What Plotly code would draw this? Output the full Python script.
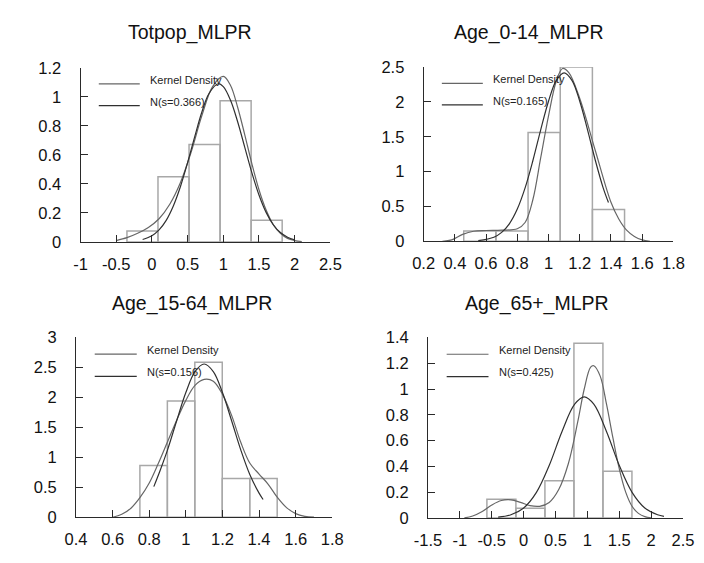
import plotly.graph_objects as go

W, H = 704, 563

# ---------------- data ----------------
titles = ["Totpop_MLPR", "Age_0-14_MLPR", "Age_15-64_MLPR", "Age_65+_MLPR"]
kernel_label = "Kernel Density"
normal_labels = ["N(s=0.366)", "N(s=0.165)", "N(s=0.156)", "N(s=0.425)"]

# Panel 1: Totpop_MLPR
p1_bin_edges = [-0.35, 0.085, 0.52, 0.955, 1.39, 1.825]
p1_density = [0.076, 0.449, 0.671, 0.973, 0.149]
p1_kernel_x = [-0.5, -0.35, -0.2, -0.05, 0.1, 0.25, 0.4, 0.55, 0.7, 0.85, 1.0, 1.1, 1.2, 1.3, 1.4, 1.5, 1.6, 1.7, 1.8, 1.9, 2.0, 2.1]
p1_kernel_y = [0.01, 0.03, 0.06, 0.1, 0.16, 0.26, 0.41, 0.62, 0.87, 1.07, 1.14, 1.08, 0.93, 0.74, 0.54, 0.36, 0.22, 0.12, 0.06, 0.025, 0.01, 0.003]
p1_normal_x = [-0.13, 0.0, 0.1, 0.2, 0.3, 0.4, 0.5, 0.6, 0.7, 0.8, 0.93, 1.0, 1.1, 1.2, 1.3, 1.4, 1.5, 1.6, 1.7, 1.8, 1.9, 2.0]
p1_normal_y = [0.017, 0.043, 0.083, 0.149, 0.248, 0.382, 0.547, 0.726, 0.895, 1.023, 1.09, 1.07, 0.978, 0.83, 0.654, 0.478, 0.324, 0.204, 0.119, 0.065, 0.033, 0.015]
p1_xticks = [-1, -0.5, 0, 0.5, 1, 1.5, 2, 2.5]
p1_xlabels = ["-1", "-0.5", "0", "0.5", "1", "1.5", "2", "2.5"]
p1_yticks = [0, 0.2, 0.4, 0.6, 0.8, 1, 1.2]
p1_ylabels = ["0", "0.2", "0.4", "0.6", "0.8", "1", "1.2"]

# Panel 2: Age_0-14_MLPR
p2_bin_edges = [0.457, 0.663, 0.869, 1.075, 1.281, 1.487]
p2_density = [0.148, 0.148, 1.56, 2.5, 0.458]
p2_kernel_x = [0.32, 0.38, 0.45, 0.52, 0.6, 0.7, 0.8, 0.85, 0.9, 0.95, 1.0, 1.05, 1.09, 1.13, 1.2, 1.3, 1.4, 1.45, 1.5, 1.55, 1.6, 1.65]
p2_kernel_y = [0.0, 0.02, 0.1, 0.145, 0.155, 0.16, 0.18, 0.27, 0.6, 1.2, 1.8, 2.3, 2.48, 2.42, 2.05, 1.3, 0.56, 0.32, 0.16, 0.07, 0.02, 0.0]
p2_normal_x = [0.55, 0.65, 0.7, 0.75, 0.8, 0.85, 0.9, 0.95, 1.0, 1.05, 1.1, 1.15, 1.2, 1.25, 1.3, 1.35, 1.384]
p2_normal_y = [0.009, 0.059, 0.128, 0.255, 0.463, 0.767, 1.16, 1.6, 2.01, 2.31, 2.418, 2.31, 2.01, 1.6, 1.16, 0.767, 0.556]
p2_xticks = [0.2, 0.4, 0.6, 0.8, 1, 1.2, 1.4, 1.6, 1.8]
p2_xlabels = ["0.2", "0.4", "0.6", "0.8", "1", "1.2", "1.4", "1.6", "1.8"]
p2_yticks = [0, 0.5, 1, 1.5, 2, 2.5]
p2_ylabels = ["0", "0.5", "1", "1.5", "2", "2.5"]

# Panel 3: Age_15-64_MLPR
p3_bin_edges = [0.749, 0.899, 1.049, 1.199, 1.349, 1.499]
p3_density = [0.862, 1.94, 2.585, 0.646, 0.646]
p3_kernel_x = [0.6, 0.65, 0.7, 0.75, 0.8, 0.85, 0.9, 0.95, 1.0, 1.05, 1.1, 1.15, 1.2, 1.25, 1.3, 1.35, 1.4, 1.45, 1.5, 1.55, 1.6, 1.65, 1.7]
p3_kernel_y = [0.0, 0.05, 0.15, 0.33, 0.57, 0.9, 1.26, 1.62, 1.95, 2.2, 2.3, 2.27, 2.05, 1.7, 1.25, 0.9, 0.72, 0.55, 0.33, 0.16, 0.06, 0.015, 0.0]
p3_normal_x = [0.825, 0.86, 0.9, 0.95, 1.0, 1.05, 1.1, 1.15, 1.2, 1.25, 1.3, 1.35, 1.4, 1.422]
p3_normal_y = [0.51, 0.784, 1.124, 1.61, 2.08, 2.43, 2.557, 2.43, 2.08, 1.61, 1.124, 0.708, 0.402, 0.296]
p3_xticks = [0.4, 0.6, 0.8, 1, 1.2, 1.4, 1.6, 1.8]
p3_xlabels = ["0.4", "0.6", "0.8", "1", "1.2", "1.4", "1.6", "1.8"]
p3_yticks = [0, 0.5, 1, 1.5, 2, 2.5, 3]
p3_ylabels = ["0", "0.5", "1", "1.5", "2", "2.5", "3"]

# Panel 4: Age_65+_MLPR
p4_bin_edges = [-0.577, -0.122, 0.333, 0.788, 1.243, 1.698]
p4_density = [0.145, 0.075, 0.288, 1.355, 0.361]
p4_kernel_x = [-0.93, -0.8, -0.65, -0.5, -0.35, -0.2, -0.05, 0.1, 0.25, 0.4, 0.55, 0.7, 0.85, 0.95, 1.05, 1.1, 1.2, 1.3, 1.4, 1.5, 1.6, 1.7, 1.8, 1.9, 2.0]
p4_kernel_y = [0.0, 0.015, 0.05, 0.1, 0.135, 0.14, 0.12, 0.095, 0.09, 0.12, 0.22, 0.42, 0.75, 1.0, 1.17, 1.18, 1.1, 0.88, 0.62, 0.38, 0.2, 0.09, 0.035, 0.01, 0.0]
p4_normal_x = [-0.4, -0.2, 0.0, 0.2, 0.4, 0.6, 0.8, 0.95, 1.1, 1.3, 1.5, 1.7, 1.9, 2.1, 2.2]
p4_normal_y = [0.006, 0.024, 0.077, 0.198, 0.406, 0.669, 0.882, 0.939, 0.882, 0.669, 0.406, 0.198, 0.077, 0.024, 0.012]
p4_xticks = [-1.5, -1, -0.5, 0, 0.5, 1, 1.5, 2, 2.5]
p4_xlabels = ["-1.5", "-1", "-0.5", "0", "0.5", "1", "1.5", "2", "2.5"]
p4_yticks = [0, 0.2, 0.4, 0.6, 0.8, 1, 1.2, 1.4]
p4_ylabels = ["0", "0.2", "0.4", "0.6", "0.8", "1", "1.2", "1.4"]

panels = [
    dict(edges=p1_bin_edges, dens=p1_density, kx=p1_kernel_x, ky=p1_kernel_y,
         nx=p1_normal_x, ny=p1_normal_y, xt=p1_xticks, xl=p1_xlabels, yt=p1_yticks, yl=p1_ylabels),
    dict(edges=p2_bin_edges, dens=p2_density, kx=p2_kernel_x, ky=p2_kernel_y,
         nx=p2_normal_x, ny=p2_normal_y, xt=p2_xticks, xl=p2_xlabels, yt=p2_yticks, yl=p2_ylabels),
    dict(edges=p3_bin_edges, dens=p3_density, kx=p3_kernel_x, ky=p3_kernel_y,
         nx=p3_normal_x, ny=p3_normal_y, xt=p3_xticks, xl=p3_xlabels, yt=p3_yticks, yl=p3_ylabels),
    dict(edges=p4_bin_edges, dens=p4_density, kx=p4_kernel_x, ky=p4_kernel_y,
         nx=p4_normal_x, ny=p4_normal_y, xt=p4_xticks, xl=p4_xlabels, yt=p4_yticks, yl=p4_ylabels),
]

# ---------------- layout geometry (pixels) ----------------
boxes = [(69, 328, 60.7, 240.7), (424.7, 683.7, 60, 240),
         (64.3, 330, 339.3, 525), (429.3, 693.7, 339.3, 525.7)]
title_pos = [(182, 24), (534, 24), (185, 304), (542, 304)]

FONT = "Liberation Sans, Arial, sans-serif"
AXIS_COLOR = "#2a2a2a"
BAR_LINE = "#a8a8a8"
KERNEL_COLOR = "#666666"
NORMAL_COLOR = "#303030"

fig = go.Figure()
layout = dict(
    width=W, height=H, margin=dict(l=0, r=0, t=0, b=0),
    paper_bgcolor="white", plot_bgcolor="white", showlegend=False,
    font=dict(family=FONT, size=16, color="#111111"),
)
annotations = []
shapes = []

for i, p in enumerate(panels):
    n = i + 1
    xa = "x" if n == 1 else f"x{n}"
    ya = "y" if n == 1 else f"y{n}"
    e = p["edges"]
    centers = [(e[k] + e[k + 1]) / 2 for k in range(len(e) - 1)]
    widths = [e[k + 1] - e[k] for k in range(len(e) - 1)]
    fig.add_trace(go.Bar(x=centers, y=p["dens"], width=widths, xaxis=xa, yaxis=ya,
                         marker=dict(color="rgba(0,0,0,0)", line=dict(color=BAR_LINE, width=1.5)),
                         hoverinfo="skip"))
    fig.add_trace(go.Scatter(x=p["kx"], y=p["ky"], mode="lines", xaxis=xa, yaxis=ya,
                             line=dict(color=KERNEL_COLOR, width=1.2, shape="spline", smoothing=1.0),
                             name=kernel_label))
    fig.add_trace(go.Scatter(x=p["nx"], y=p["ny"], mode="lines", xaxis=xa, yaxis=ya,
                             line=dict(color=NORMAL_COLOR, width=1.2, shape="spline", smoothing=1.0),
                             name=normal_labels[i]))

    l, r, t, b = boxes[i]
    xkey = "xaxis" if n == 1 else f"xaxis{n}"
    ykey = "yaxis" if n == 1 else f"yaxis{n}"
    layout[xkey] = dict(
        domain=[l / W, r / W], anchor=ya, range=[p["xt"][0], p["xt"][-1]],
        tickvals=p["xt"], ticktext=p["xl"], ticks="inside", ticklen=7, tickwidth=1,
        tickcolor=AXIS_COLOR, showline=True, linecolor=AXIS_COLOR, linewidth=1,
        showgrid=False, zeroline=False, ticklabelstandoff=7,
        tickfont=dict(family=FONT, size=16.5, color="#111111"),
    )
    layout[ykey] = dict(
        domain=[1 - b / H, 1 - t / H], anchor=xa, range=[p["yt"][0], p["yt"][-1]],
        tickvals=p["yt"], ticktext=p["yl"], ticks="inside", ticklen=7, tickwidth=1,
        tickcolor=AXIS_COLOR, showline=True, linecolor=AXIS_COLOR, linewidth=1,
        showgrid=False, zeroline=False, ticklabelstandoff=15,
        tickfont=dict(family=FONT, size=16.5, color="#111111"),
    )

    # title
    tx, ty = title_pos[i]
    annotations.append(dict(text=titles[i], x=tx / W, y=1 - ty / H, xref="paper", yref="paper",
                            xanchor="center", yanchor="middle", showarrow=False,
                            font=dict(family=FONT, size=19.5, color="#111111")))
    # legend (inside each panel)
    for j, (lab, col, ly, ty_) in enumerate([(kernel_label, KERNEL_COLOR, 0.907, 0.932),
                                             (normal_labels[i], NORMAL_COLOR, 0.783, 0.806)]):
        shapes.append(dict(type="line", xref=f"{xa} domain", yref=f"{ya} domain",
                           x0=0.073, x1=0.237, y0=ly, y1=ly, line=dict(color=col, width=1.2)))
        annotations.append(dict(text=lab, xref=f"{xa} domain", yref=f"{ya} domain",
                                x=0.27, y=ty_, xanchor="left", yanchor="middle", showarrow=False,
                                font=dict(family=FONT, size=11, color="#222222")))

layout["annotations"] = annotations
layout["shapes"] = shapes
fig.update_layout(**layout)
fig.write_html("out.html")
